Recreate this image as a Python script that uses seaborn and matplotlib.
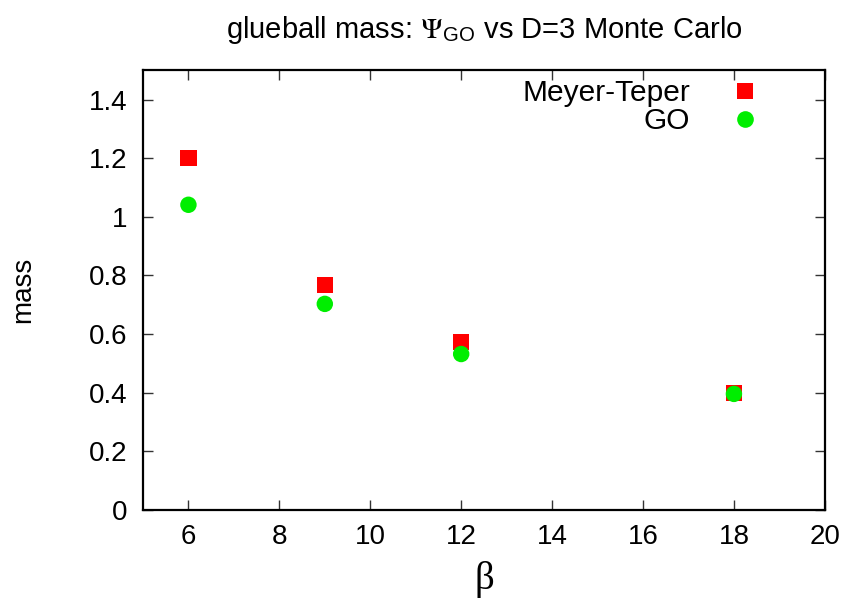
import matplotlib
matplotlib.use("Agg")
import matplotlib.pyplot as plt
import pandas as pd
import seaborn as sns

# values
beta = [6, 9, 12, 18]
meyer_teper = [1.20, 0.768, 0.573, 0.399]
go = [1.041, 0.703, 0.532, 0.396]
series_names = ["Meyer-Teper", "GO"]
x_ticks = [6, 8, 10, 12, 14, 16, 18, 20]
y_ticks = [0, 0.2, 0.4, 0.6, 0.8, 1, 1.2, 1.4]
y_tick_labels = ["0", "0.2", "0.4", "0.6", "0.8", "1", "1.2", "1.4"]

df = pd.DataFrame({
    "beta": beta * 2,
    "mass": meyer_teper + go,
    "series": [series_names[0]] * len(beta) + [series_names[1]] * len(beta),
})

sns.set_theme(style="ticks")
plt.rcParams["font.family"] = ["Liberation Sans", "DejaVu Sans"]
plt.rcParams["mathtext.fontset"] = "stix"
plt.rcParams["text.color"] = "black"
plt.rcParams["axes.labelcolor"] = "black"

fig = plt.figure(figsize=(8.46, 6.0), dpi=100)
ax = fig.add_axes([0.169, 0.15, 0.806, 0.733])

sns.scatterplot(
    data=df, x="beta", y="mass", hue="series", style="series",
    hue_order=series_names, style_order=series_names,
    palette={"Meyer-Teper": "#ff0000", "GO": "#00ee00"},
    markers={"Meyer-Teper": "s", "GO": "o"},
    s=140, linewidth=0, ax=ax, zorder=3,
)

ax.set_xlim(5, 20)
ax.set_ylim(0, 1.5)
ax.set_xticks(x_ticks)
ax.set_yticks(y_ticks)
ax.set_yticklabels(y_tick_labels)
ax.tick_params(axis="both", which="both", direction="in", length=7, width=1,
               labelsize=20, color="#333333", labelcolor="black",
               top=True, right=True)
ax.tick_params(axis="x", pad=10)
ax.tick_params(axis="y", pad=11)
for sp in ax.spines.values():
    sp.set_visible(True)
    sp.set_linewidth(1.6)
    sp.set_color("black")

ax.set_xlabel("β", family="Liberation Serif", fontsize=28, labelpad=8)
ax.set_ylabel("mass", fontsize=20, labelpad=38)
ax.set_title(r"glueball mass: $\Psi_{\mathregular{GO}}$ vs D=3 Monte Carlo",
             fontsize=21, pad=23)

leg = ax.legend(loc="upper right", frameon=False, markerfirst=False,
                fontsize=21.5, alignment="right", handletextpad=0.85,
                labelspacing=0.0, borderaxespad=0.2,
                bbox_to_anchor=(0.953, 1.02))
for t in leg.get_texts():
    t.set_horizontalalignment("right")
for h in leg.legend_handles:
    h.set_markersize(12)
    h.set_markeredgewidth(0)

fig.savefig("out.png", dpi=100)
